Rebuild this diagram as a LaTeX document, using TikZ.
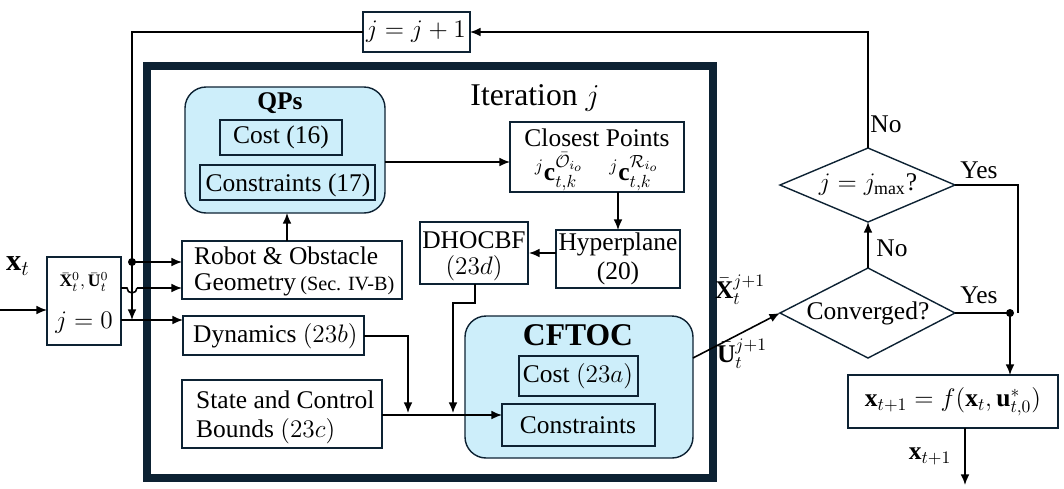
\documentclass[tikz,border=0pt]{standalone}
\usepackage{amsmath,amssymb}
\usepackage{fontspec}
\setmainfont{Liberation Serif}
\usetikzlibrary{shapes.geometric,arrows.meta}
\definecolor{frame}{HTML}{0D2233}
\definecolor{lb}{HTML}{CDEEFA}
\newcommand{\mysz}{\fontsize{14.5}{17}\selectfont}
\begin{document}
\begin{tikzpicture}[x=0.02cm,y=-0.02cm,
 box/.style={draw=frame,line width=0.8pt,inner sep=0pt},
 rbox/.style={draw=frame,line width=0.8pt,fill=lb,rounded corners=12pt},
 ar/.style={-{Latex[length=6pt,width=5pt]},line width=0.9pt},
 ln/.style={line width=0.9pt},
 dia/.style={draw=frame,line width=0.8pt},
 every node/.style={font=\mysz}]
\useasboundingbox (0,0) rectangle (1064,488);
% frame
\draw[frame,line width=5pt] (147,66) rectangle (713,478);
\node at (535,98) {\fontsize{18}{20}\selectfont Iteration $j$};
% boxes
\draw[box] (363,12) rectangle (470,52); \node (jj) at (416,32) {$j=j+1$};
\coordinate (jjL) at (363,32); \coordinate (jjR) at (470,32);
\draw[box] (47,257) rectangle (121,345);
\node[font=\normalsize] at (84,282) {$\bar{\mathbf X}_t^0,\bar{\mathbf U}_t^0$};
\node at (84,323) {$j=0$};
\node at (18,266) {\LARGE$\mathbf x_t$};
\coordinate (xin) at (0,310); \coordinate (initL) at (47,310);
\draw[ar] (xin) -- (initL);
% QPs
\draw[rbox] (185,87) rectangle (385,213);
\node[font=\mysz\bfseries] at (280,103) {QPs};
\draw[box] (220,120) rectangle (342,155); \node at (281,137) {Cost (16)};
\draw[box] (200,165) rectangle (375,200); \node at (288,185) {Constraints (17)};
% robot
\draw[box] (182,241) rectangle (402,299);
\node[anchor=west] at (188,256) {Robot \& Obstacle};
\node[anchor=west] at (188,285) {Geometry\,{\fontsize{11.5}{13}\selectfont(Sec. IV-B)}};
\draw[box] (183,316) rectangle (364,355); \node[anchor=west] at (187,336) {Dynamics $(23b)$};
\draw[box] (182,380) rectangle (382,448);
\node[anchor=west] at (190,400) {State and Control};
\node[anchor=west] at (190,431) {Bounds $(23c)$};
\draw[box] (510,122) rectangle (684,192);
\node at (597,138) {Closest Points};
\node at (597,172) {${}^j\mathbf c_{t,k}^{\bar{\mathcal O}_{i_o}}\quad{}^j\mathbf c_{t,k}^{\mathcal R_{i_o}}$};
\draw[box] (556,230) rectangle (680,288);
\node at (618,244) {Hyperplane}; \node at (618,273) {(20)};
\draw[box] (420,222) rectangle (528,284);
\node at (474,240) {DHOCBF}; \node at (474,268) {$(23d)$};
% CFTOC
\draw[rbox] (465,316) rectangle (693,458);
\node[font=\fontsize{18}{20}\selectfont\bfseries] at (578,335) {CFTOC};
\draw[box] (519,356) rectangle (638,396); \node at (578,376) {Cost $(23a)$};
\draw[box] (502,404) rectangle (655,446); \node at (578,425) {Constraints};
% diamonds
\draw[dia] (780,313) -- (868,268) -- (955,313) -- (868,358) -- cycle;
\node (conv) at (868,313) {Converged?};
\coordinate (convW) at (780,313); \coordinate (convN) at (868,268); \coordinate (convE) at (955,313);
\draw[dia] (780,185) -- (868,148) -- (955,185) -- (868,222) -- cycle;
\node (jm) at (868,185) {$j=j_{\max}$?};
\coordinate (jmN) at (868,148); \coordinate (jmS) at (868,222); \coordinate (jmE) at (955,185);
\draw[box] (848,375) rectangle (1058,428);
\node at (953,402) {$\mathbf x_{t+1}=f(\mathbf x_t,\mathbf u^*_{t,0})$};
% connectors
\draw[ar] (jmN) -- (868,32) -- (jjR);
\node at (886,124) {No};
\draw[ln] (jjL) -- (132,32) -- (132,262);
\draw[ar] (132,262) -- (132,320);
\fill (132,262) circle (4);
\draw[ar] (132,262) -- (182,262);
\draw[ln] (121,288) -- (127,288) arc (180:0:5) -- (137,288);
\draw[ar] (137,288) -- (182,288);
\draw[ar] (121,320) -- (183,320);
\draw[ar] (287,241) -- (287,213);
\draw[ar] (385,162) -- (510,162);
\draw[ar] (618,192) -- (618,230);
\draw[ar] (556,253) -- (529,253);
\draw[ar] (364,336) -- (408,336) -- (408,413);
\draw[ar] (475,284) -- (475,303) -- (453,303) -- (453,413);
\draw[ar] (382,415) -- (502,415);
\draw[ar] (693,358) -- (convW);
\node at (740,290) {$\bar{\mathbf X}_t^{j+1}$};
\node at (742,354) {$\bar{\mathbf U}_t^{j+1}$};
\draw[ar] (convN) -- (jmS); \node at (892,248) {No};
\draw[ln] (jmE) -- (1018,185) -- (1018,313);
\draw[ln] (convE) -- (1010,313);
\fill (1010,313) circle (4);
\draw[ar] (1010,313) -- (1010,375);
\node at (979,170) {Yes}; \node at (979,295) {Yes};
\draw[ar] (965,428) -- (965,485);
\node at (930,456) {$\mathbf x_{t+1}$};
\end{tikzpicture}
\end{document}
